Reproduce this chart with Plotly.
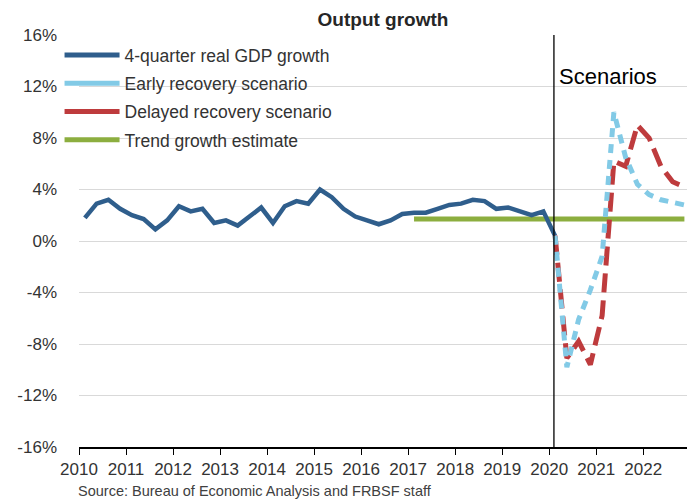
import plotly.graph_objects as go

FONT = "Liberation Sans, Arial, Helvetica, sans-serif"

# ---------------- data ----------------
gdp_start = "2010Q1"
gdp_growth = [1.8, 2.9, 3.2, 2.5, 2.0, 1.7, 0.9, 1.6, 2.7, 2.3, 2.5, 1.4, 1.6, 1.2,
              1.9, 2.6, 1.4, 2.7, 3.1, 2.9, 4.0, 3.4, 2.5, 1.9, 1.6, 1.3, 1.6, 2.1,
              2.2, 2.2, 2.5, 2.8, 2.9, 3.2, 3.1, 2.5, 2.6, 2.3, 2.0, 2.3, 0.4]

scenario_start = "2020Q1"
early_recovery = [0.4, -9.8, -6.1, -3.8, -1.2, 10.0, 6.5, 4.4, 3.6, 3.2, 3.0, 2.8]
delayed_recovery = [0.4, -9.1, -7.8, -9.6, -5.8, 6.2, 5.8, 9.0, 8.0, 5.8, 4.6, 4.2]

trend_quarters = ["2017Q1", "2022Q4"]
trend_growth = [1.7, 1.7]

scenario_divider = 2020.1

year_ticks = list(range(2010, 2023))
year_labels = [str(y) for y in year_ticks]
y_ticks = [-16, -12, -8, -4, 0, 4, 8, 12, 16]
y_labels = ["-16%", "-12%", "-8%", "-4%", "0%", "4%", "8%", "12%", "16%"]

series_names = ["4-quarter real GDP growth", "Early recovery scenario",
                "Delayed recovery scenario", "Trend growth estimate"]
series_colors = ["#2F5E8C", "#82CAE6", "#BE3B3D", "#8CAE3F"]


def qpos(label):
    year, q = int(label[:4]), int(label[-1])
    return year + (q - 1) / 4 + 0.125


def quarter_series(start, n):
    x0 = qpos(start)
    return [x0 + i / 4 for i in range(n)]


gdp_x = quarter_series(gdp_start, len(gdp_growth))
scen_x = quarter_series(scenario_start, len(early_recovery))
trend_x = [qpos(q) for q in trend_quarters]

fig = go.Figure()

# data traces (legend handled by solid swatch traces below)
fig.add_trace(go.Scatter(x=trend_x, y=trend_growth, mode="lines",
                         line=dict(color=series_colors[3], width=5),
                         showlegend=False, hoverinfo="skip"))
fig.add_trace(go.Scatter(x=gdp_x, y=gdp_growth, mode="lines",
                         line=dict(color=series_colors[0], width=4.5),
                         showlegend=False))
fig.add_trace(go.Scatter(x=scen_x, y=delayed_recovery, mode="lines",
                         line=dict(color=series_colors[2], width=5, dash="19px,8px"),
                         showlegend=False))
fig.add_trace(go.Scatter(x=scen_x, y=early_recovery, mode="lines",
                         line=dict(color=series_colors[1], width=5, dash="9px,7px"),
                         showlegend=False))

# legend entries (solid swatches as in the original)
for i, (name, color) in enumerate(zip(series_names, series_colors)):
    fig.add_trace(go.Scatter(x=[None], y=[None], mode="lines", name=name,
                             legendgroup=f"g{i}", legendrank=i + 1,
                             line=dict(color=color, width=5)))

fig.add_vline(x=scenario_divider, line_color="black", line_width=1.3)

fig.add_annotation(x=scenario_divider, xref="x", xanchor="left", xshift=3,
                   y=0.899, yref="paper", yanchor="middle", showarrow=False,
                   text="Scenarios", font=dict(family=FONT, size=22, color="black"))

fig.add_annotation(x=0, xref="paper", xanchor="left", xshift=-3, y=-0.107, yref="paper",
                   yanchor="middle", showarrow=False,
                   text="Source: Bureau of Economic Analysis and FRBSF staff",
                   font=dict(family=FONT, size=14.5, color="#404040"))

# page body has an 8px margin: figure is sized/offset to compensate
fig.update_layout(
    width=688, height=493,
    margin=dict(l=67, r=9, t=27, b=54),
    paper_bgcolor="white", plot_bgcolor="white",
    font=dict(family=FONT, size=17, color="#333333"),
    title=dict(text="<b>Output growth</b>", x=0.5, xref="paper", xanchor="center",
               y=1 - 11 / 493, yref="container", yanchor="middle",
               font=dict(family=FONT, size=19, color="#262626")),
    legend=dict(x=-0.032, xanchor="left", y=0.995, yanchor="top",
                bgcolor="rgba(0,0,0,0)", borderwidth=0, itemwidth=55,
                tracegroupgap=2.5, traceorder="grouped",
                font=dict(family=FONT, size=17.5, color="#333333")),
    showlegend=True,
    xaxis=dict(range=[2010, 2022.93], tickmode="array", tickvals=year_ticks,
               ticktext=year_labels, ticks="outside", ticklen=6, tickwidth=1,
               tickcolor="black", showline=True, linecolor="black", linewidth=1.5,
               showgrid=False, zeroline=False, ticklabelstandoff=0,
               tickfont=dict(family=FONT, size=17, color="#333333")),
    yaxis=dict(range=[-16, 16], tickmode="array", tickvals=y_ticks, ticktext=y_labels,
               showgrid=True, gridcolor="#D9D9D9", gridwidth=1, zeroline=False,
               showline=False, ticks="", ticklabelstandoff=21,
               tickfont=dict(family=FONT, size=17, color="#333333")),
)

fig.write_html("out.html")
